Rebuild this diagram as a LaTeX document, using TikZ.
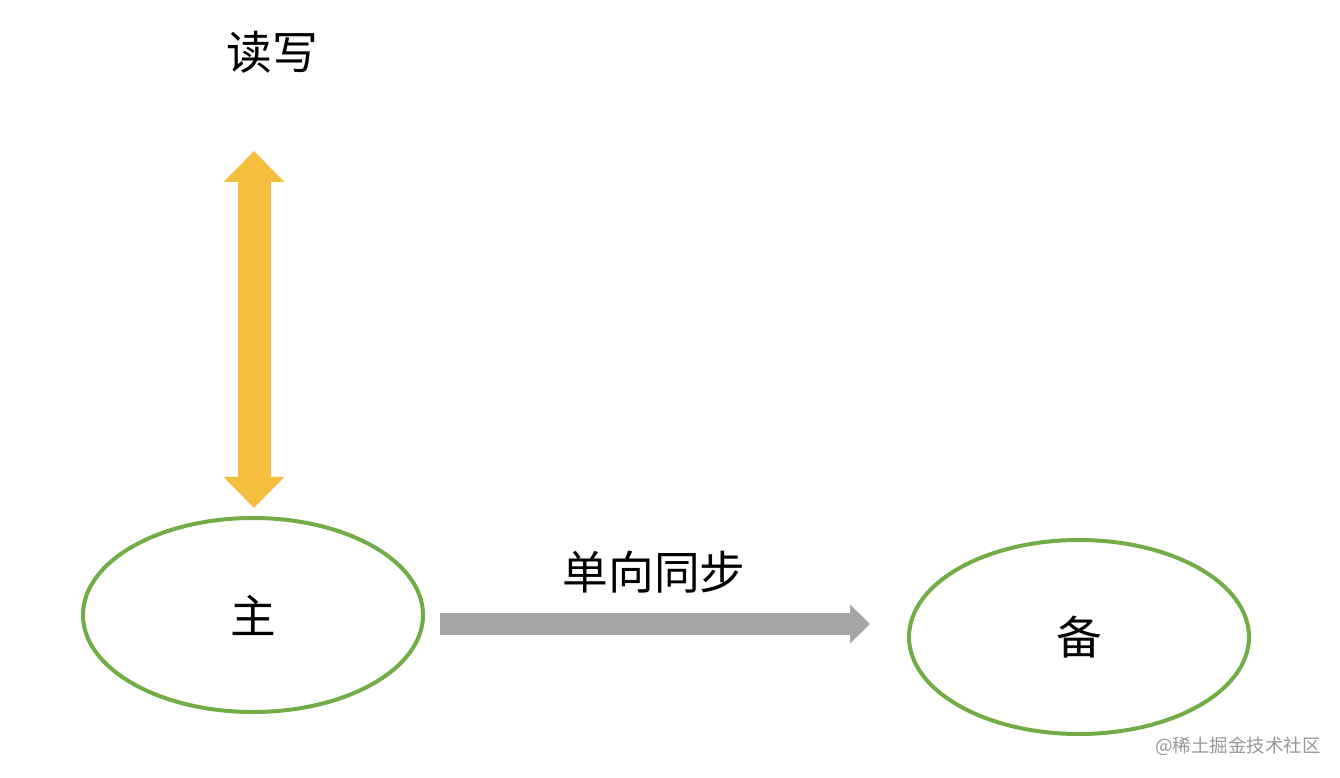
\documentclass[tikz,border=0pt]{standalone}
\usepackage{fontspec}
\newfontfamily\cjk{Noto Sans CJK SC}
\usetikzlibrary{shapes.geometric,arrows.meta}
\definecolor{ringgreen}{RGB}{112,173,71}
\definecolor{rwyellow}{RGB}{244,190,63}
\definecolor{syncgray}{RGB}{165,165,165}
\definecolor{markgray}{RGB}{150,150,150}
\tikzset{
	ring/.style={ellipse, draw=ringgreen, line width=0.8mm, minimum width=68mm, minimum height=38.8mm, inner sep=0pt, font=\cjk\fontsize{26pt}{30pt}\selectfont},
	label/.style={font=\cjk\fontsize{26pt}{30pt}\selectfont},
	rwarrow/.style={draw=rwyellow, line width=6.6mm, {Triangle[width=11.8mm,length=6.2mm]}-{Triangle[width=11.8mm,length=6.2mm]}},
	syncarrow/.style={draw=syncgray, line width=4.4mm, -{Triangle[width=7.6mm,length=4mm]}}
}
\begin{document}
\begin{tikzpicture}[x=0.2mm,y=-0.2mm]
	\useasboundingbox (0,0) rectangle (1340,778);
	\node[ring] (zhu) at (253,615) {主};
	\node[ring] (bei) at (1079,637) {备};
	\node[label] (rw) at (272,52) {读写};
	\node[label] (sync) at (654,572) {单向同步};
	\coordinate (rwtop) at (254,151);
	\coordinate (syncy) at (0,624);
	\draw[rwarrow, shorten >=1.6mm] (rwtop) -- (zhu.north -| rwtop);
	\draw[syncarrow, shorten <=3mm, shorten >=7.4mm] (zhu.east |- syncy) -- (bei.west |- syncy);
	\node[font=\cjk\fontsize{10.5pt}{12pt}\selectfont, text=markgray] (mark) at (1238,746) {@稀土掘金技术社区};
\end{tikzpicture}
\end{document}
